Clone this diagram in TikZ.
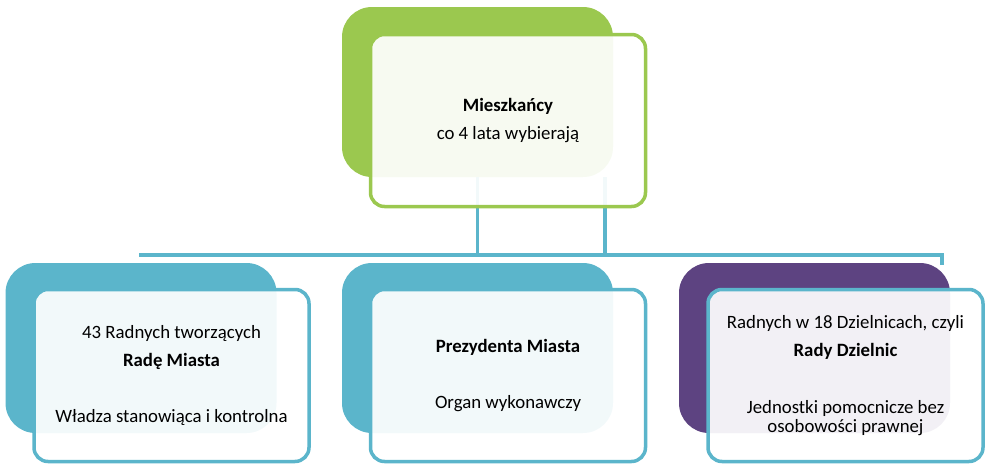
\documentclass[tikz,border=0pt]{standalone}
\usepackage{fontspec}
\setmainfont{Carlito}
\usetikzlibrary{positioning}

\definecolor{leafgreen}{HTML}{9BC84F}
\definecolor{seablue}{HTML}{5BB5CB}
\definecolor{plum}{HTML}{5D4381}

\tikzset{
  backbox/.style={rectangle, rounded corners=30pt, minimum width=271pt,
    minimum height=170pt, inner sep=0pt},
  frontbox/.style={rectangle, rounded corners=14pt, line width=3.5pt,
    minimum width=275pt, minimum height=172pt, inner sep=0pt,
    fill=white, fill opacity=0.92, text opacity=1, align=center,
    font=\fontsize{18.8}{28.3}\selectfont, text=black},
  link/.style={draw=seablue, line width=3.5pt}
}

\begin{document}
\begin{tikzpicture}[x=1pt,y=-1pt]
  \useasboundingbox (0,0) rectangle (986,469);

  % back boxes
  \node[backbox, fill=leafgreen] (topback) at (477.5,92) {};
  \foreach \name/\x/\col in {leftback/141/seablue,midback/477.5/seablue,rightback/814.5/plum}
    \node[backbox, fill=\col] (\name) at (\x,348) {};

  % lines
  \coordinate (busL) at (139,255);
  \coordinate (busEnd) at (942,265);
  \coordinate (tapR) at (605,177);
  \draw[link] (busL) -| (busEnd);
  \draw[link] (topback.south) -- (topback.south |- busL);
  \draw[link] (tapR) -- (tapR |- busL);

  % front boxes
  \node[frontbox, draw=leafgreen] (people) at (508,120.5)
    {\textbf{Mieszkańcy}\\co 4 lata wybierają};
  \node[frontbox, draw=seablue] (council) at (171.5,375.5)
    {43 Radnych tworzących\\\textbf{Radę Miasta}\\[28pt]Władza stanowiąca i kontrolna};
  \node[frontbox, draw=seablue] (mayor) at (508,375.5)
    {\textbf{Prezydenta Miasta}\\[28pt]Organ wykonawczy};
  \node[frontbox, draw=seablue] (districts) at (845.5,375.5)
    {Radnych w 18 Dzielnicach, czyli\\\textbf{Rady Dzielnic}\\[29pt]Jednostki pomocnicze bez\\[-9.5pt]osobowości prawnej};
\end{tikzpicture}
\end{document}
